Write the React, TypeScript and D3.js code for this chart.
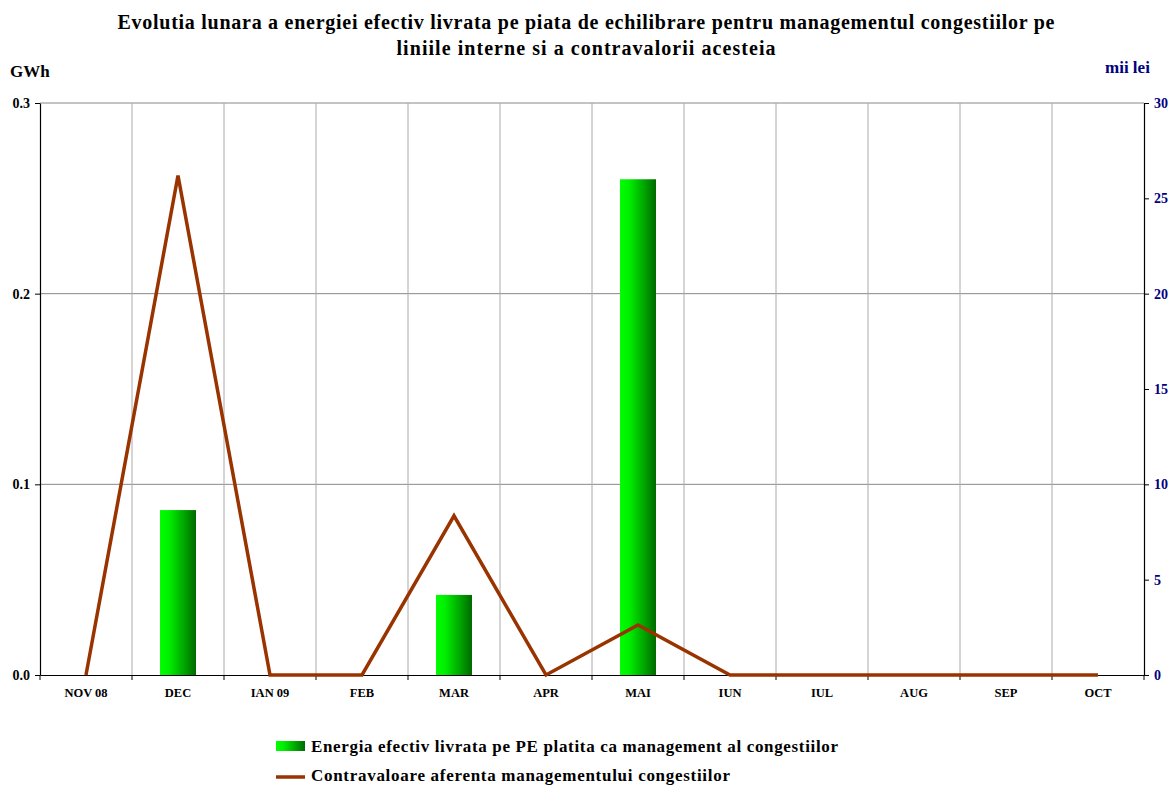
import { useEffect, useRef } from "react";
import * as d3 from "d3";

// Date
const luni = ["NOV 08", "DEC", "IAN 09", "FEB", "MAR", "APR", "MAI", "IUN", "IUL", "AUG", "SEP", "OCT"];
const energieGWh = [0, 0.0865, 0, 0, 0.042, 0, 0.26, 0, 0, 0, 0, 0];
const contravaloareMiiLei = [0, 26.2, 0, 0, 8.35, 0, 2.62, 0, 0, 0, 0, 0];
const ticksStanga = [0, 0.1, 0.2, 0.3];
const ticksDreapta = [0, 5, 10, 15, 20, 25, 30];

const titlu = [
  "Evolutia lunara a energiei efectiv livrata pe piata de echilibrare pentru managementul congestiilor pe",
  "liniile interne si a contravalorii acesteia",
];
const legenda = [
  "Energia efectiv livrata pe PE platita ca management al congestiilor",
  "Contravaloare aferenta managementului congestiilor",
];

const App = () => {
  const ref = useRef<SVGSVGElement | null>(null);

  useEffect(() => {
    if (!ref.current) return;
    const svg = d3.select(ref.current);
    svg.selectAll("*").remove();

    const font = "'Liberation Serif', 'Times New Roman', serif";
    const left = 40, right = 1144, top = 103, bottom = 675;
    const lineColor = "#993300";
    const navy = "#000080";

    const x = d3.scaleBand().domain(luni).range([left, right]).padding(0);
    const yL = d3.scaleLinear().domain([0, 0.3]).range([bottom, top]);
    const yR = d3.scaleLinear().domain([0, 30]).range([bottom, top]);

    const defs = svg.append("defs");
    const grad = defs.append("linearGradient").attr("id", "barGrad")
      .attr("x1", "0%").attr("x2", "100%").attr("y1", "0%").attr("y2", "0%");
    grad.append("stop").attr("offset", "0%").attr("stop-color", "#00ff00");
    grad.append("stop").attr("offset", "25%").attr("stop-color", "#00f000");
    grad.append("stop").attr("offset", "100%").attr("stop-color", "#006a00");

    // Titlu (latimea liniilor potrivita dupa original)
    const latimiTitlu = [937, 379];
    svg.append("g").selectAll("text").data(titlu).enter().append("text")
      .attr("x", 586).attr("y", (d, i) => 29 + i * 26)
      .attr("text-anchor", "middle")
      .attr("textLength", (d, i) => latimiTitlu[i])
      .attr("lengthAdjust", "spacing")
      .style("font-family", font).style("font-weight", "700").style("font-size", "20px")
      .text((d) => d);

    svg.append("text").attr("x", 10).attr("y", 77)
      .style("font-family", font).style("font-weight", "700").style("font-size", "17px")
      .text("GWh");
    svg.append("text").attr("x", 1105).attr("y", 73)
      .style("font-family", font).style("font-weight", "700").style("font-size", "17px")
      .style("fill", navy).text("mii lei");

    // Grila
    svg.append("g").selectAll("line").data(ticksStanga.filter((d) => d > 0)).enter().append("line")
      .attr("x1", left).attr("x2", right).attr("y1", (d) => yL(d)).attr("y2", (d) => yL(d))
      .attr("stroke", "#888").attr("stroke-width", 1);
    svg.append("g").selectAll("line").data(luni.slice(1)).enter().append("line")
      .attr("x1", (d) => x(d)!).attr("x2", (d) => x(d)!).attr("y1", top).attr("y2", bottom)
      .attr("stroke", "#aaa").attr("stroke-width", 1);

    // Bare
    svg.append("g").selectAll("rect").data(luni.map((l, i) => ({ l, v: energieGWh[i] })).filter((d) => d.v > 0))
      .enter().append("rect")
      .attr("x", (d) => x(d.l)! + x.bandwidth() / 2 - 18)
      .attr("width", 36)
      .attr("y", (d) => yL(d.v))
      .attr("height", (d) => bottom - yL(d.v))
      .attr("fill", "url(#barGrad)");

    // Axe
    const axL = svg.append("g").attr("transform", `translate(${left},0)`)
      .call(d3.axisLeft(yL).tickValues(ticksStanga).tickFormat(d3.format(".1f")).tickSize(5).tickSizeOuter(0).tickPadding(5));
    const axR = svg.append("g").attr("transform", `translate(${right},0)`)
      .call(d3.axisRight(yR).tickValues(ticksDreapta).tickFormat(d3.format("d")).tickSize(5).tickSizeOuter(0));
    const axB = svg.append("g").attr("transform", `translate(0,${bottom})`)
      .call(d3.axisBottom(x).tickSize(0).tickSizeOuter(0).tickPadding(13));

    [axL, axR, axB].forEach((a) => {
      a.selectAll("path").attr("stroke", "#000").attr("stroke-width", 1.2);
      a.selectAll("line").attr("stroke", "#000");
      a.selectAll("text").style("font-family", font).style("font-weight", "700");
    });
    axL.selectAll("text").style("font-size", "14px").style("fill", "#000");
    axR.selectAll("text").style("font-size", "14px").style("fill", navy).attr("x", 10);
    axB.selectAll("text").style("font-size", "12.5px").style("fill", "#000");

    // Liniute pe axa de jos la limitele categoriilor
    svg.append("g").selectAll("line").data(luni.slice(1).map((l) => x(l)!).concat([left, right]))
      .enter().append("line")
      .attr("x1", (d) => d).attr("x2", (d) => d).attr("y1", bottom).attr("y2", bottom + 5)
      .attr("stroke", "#000");

    // Linia contravalorii
    const line = d3.line<number>()
      .x((d, i) => x(luni[i])! + x.bandwidth() / 2)
      .y((d) => yR(d));
    svg.append("path").datum(contravaloareMiiLei)
      .attr("d", line).attr("fill", "none")
      .attr("stroke", lineColor).attr("stroke-width", 3.5).attr("stroke-linejoin", "miter");

    // Legenda
    const latimiLegenda = [527, 419];
    svg.append("rect").attr("x", 276).attr("y", 741).attr("width", 29).attr("height", 10)
      .attr("fill", "url(#barGrad)");
    svg.append("line").attr("x1", 276).attr("x2", 305).attr("y1", 777).attr("y2", 777)
      .attr("stroke", lineColor).attr("stroke-width", 3.5);
    svg.append("g").selectAll("text").data(legenda).enter().append("text")
      .attr("x", 311).attr("y", (d, i) => 752 + i * 29)
      .attr("textLength", (d, i) => latimiLegenda[i])
      .attr("lengthAdjust", "spacing")
      .style("font-family", font).style("font-weight", "700").style("font-size", "17px")
      .text((d) => d);
  }, []);

  return (
    <svg ref={ref} width={1172} height={785}
      style={{ position: "absolute", left: 0, top: 0, background: "#fff" }} />
  );
};

export default App;
